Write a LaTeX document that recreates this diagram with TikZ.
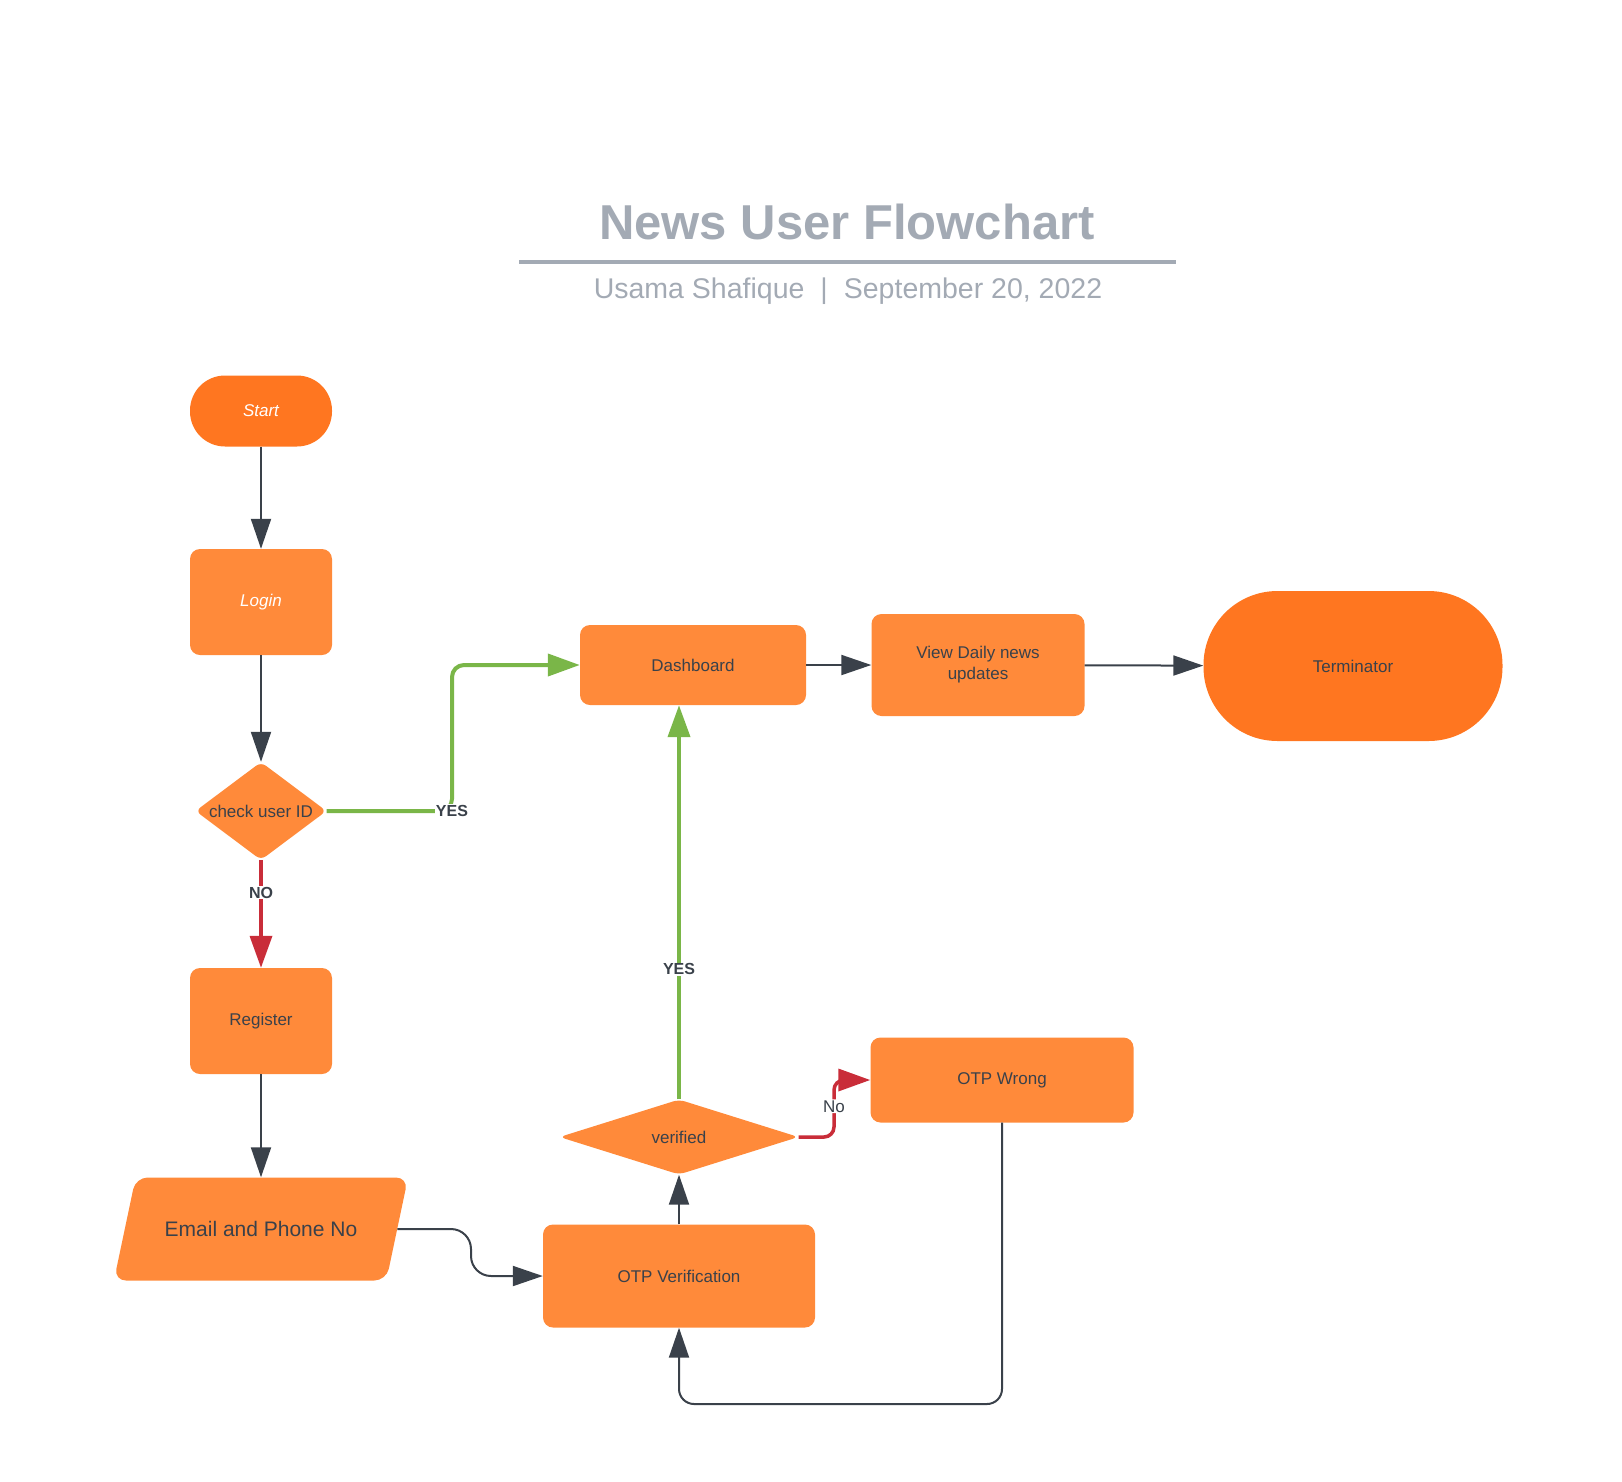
\documentclass[tikz,border=0pt]{standalone}
\usepackage{fontspec}
\setmainfont{Liberation Sans}
\usetikzlibrary{shapes.geometric, arrows.meta}

\definecolor{boxorange}{HTML}{FF8A3A}
\definecolor{termorange}{HTML}{FF7620}
\definecolor{linedark}{HTML}{3A414A}
\definecolor{titlegray}{HTML}{A3AAB4}
\definecolor{yesgreen}{HTML}{7AB648}
\definecolor{nored}{HTML}{C92D39}

\begin{document}
\begin{tikzpicture}[
    x=1pt, y=-1pt,
    every node/.style={font=\fontsize{17}{21}\selectfont, text=linedark},
    process/.style={rectangle, rounded corners=10pt, fill=boxorange, align=center, inner sep=0pt},
    terminal/.style={rectangle, fill=termorange, align=center, inner sep=0pt},
    decision/.style={diamond, rounded corners=6pt, fill=boxorange, inner sep=0pt},
    io/.style={trapezium, trapezium left angle=78, trapezium right angle=102, trapezium stretches=true, rounded corners=12pt, fill=boxorange, inner xsep=28pt, inner ysep=43pt},
    arrow/.style={-{Triangle[length=30pt, width=20pt]}, line width=2pt, draw=linedark},
    yesarrow/.style={-{Triangle[length=32pt, width=22pt]}, line width=4pt, draw=yesgreen},
    noarrow/.style={-{Triangle[length=32pt, width=22pt]}, line width=3.5pt, draw=nored},
    edgelabel/.style={fill=white, inner sep=1pt}
]

\useasboundingbox (0,0) rectangle (1622,1481);

% Title
\node[font=\bfseries\fontsize{49}{59}\selectfont, text=titlegray] (title) at (847,222) {News User Flowchart};
\draw[titlegray, line width=3.5pt] (519,262) -- (1176,262);
\node[font=\fontsize{28.5}{34}\selectfont, text=titlegray] (subtitle) at (848,291) {Usama Shafique\hspace{16pt}|\hspace{16pt}September 20, 2022};

% Left column
\node[terminal, rounded corners=35pt, minimum width=142pt, minimum height=71pt, text=white, font=\itshape\fontsize{17}{21}\selectfont] (start) at (261,411) {Start};
\node[process, minimum width=142pt, minimum height=106pt, text=white, font=\itshape\fontsize{17}{21}\selectfont] (login) at (261,602) {Login};
\node[decision, minimum width=131pt, minimum height=98pt] (check) at (261,811) {\makebox[0pt]{check user ID}};
\node[process, minimum width=142pt, minimum height=106pt] (register) at (261,1021) {Register};
\node[io, minimum width=295pt, minimum height=103pt, font=\fontsize{21}{25}\selectfont] (contact) at (261,1229) {Email and Phone No};

% Verification
\node[process, minimum width=272pt, minimum height=103pt] (otpverify) at (679,1276) {OTP Verification};
\node[decision, minimum width=239pt, minimum height=75pt] (verified) at (679,1137) {\makebox[0pt]{verified}};
\node[process, minimum width=263pt, minimum height=85pt] (otpwrong) at (1002,1080) {OTP Wrong};

% Top row
\node[process, minimum width=226pt, minimum height=80pt] (dashboard) at (693,665) {Dashboard};
\node[process, minimum width=213pt, minimum height=102pt] (news) at (978,665) {View Daily news\\updates};
\node[terminal, rounded corners=74pt, minimum width=299pt, minimum height=150pt] (terminator) at (1353,666) {Terminator};

% Bend points
\coordinate (yesbend) at (452,811);
\coordinate (nobend) at (834,1137);
\coordinate (contactbend) at (471,0);
\coordinate (loopbottom) at (0,1404);

% Arrows
\draw[arrow] (start) -- (login);
\draw[arrow] (login) -- (check);
\draw[noarrow] (check) -- node[edgelabel, pos=0.3, font=\bfseries\fontsize{16}{19}\selectfont] {NO} (register);
\draw[yesarrow, rounded corners=12pt] (check.east) -- (yesbend) |- (dashboard.west);
\node[edgelabel, font=\bfseries\fontsize{16}{19}\selectfont] at (yesbend) {YES};
\draw[arrow] (register) -- (contact);
\draw[arrow, rounded corners=20pt] (contact.east) -- (contact.east -| contactbend) |- (otpverify.west);
\draw[arrow] (otpverify) -- (verified);
\draw[yesarrow] (verified.north) -- node[edgelabel, pos=0.33, font=\bfseries\fontsize{16}{19}\selectfont] {YES} (verified.north |- dashboard.south);
\draw[noarrow, rounded corners=10pt] (verified.east) -- (nobend) |- node[edgelabel, pos=0.27] {No} (otpwrong.west);
\draw[arrow, rounded corners=15pt] (otpwrong.south) -- (otpwrong.south |- loopbottom) -| (otpverify.south);
\draw[arrow] (dashboard) -- (news);
\draw[arrow] (news) -- (terminator);

\end{tikzpicture}
\end{document}
